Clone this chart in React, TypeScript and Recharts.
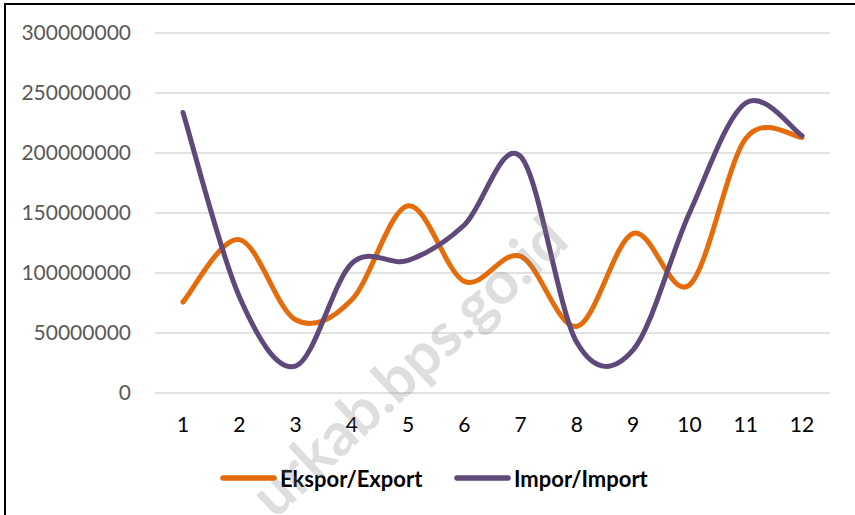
import React from 'react';
import { LineChart, Line, XAxis, YAxis, CartesianGrid, Legend } from 'recharts';

const months = ['1', '2', '3', '4', '5', '6', '7', '8', '9', '10', '11', '12'];
const exportValues = [75.8e6, 127.8e6, 61e6, 77.8e6, 156e6, 93e6, 113.9e6, 55.5e6, 133e6, 90e6, 212e6, 213e6];
const importValues = [233.8e6, 80.5e6, 22.4e6, 108e6, 110.5e6, 140e6, 197e6, 42e6, 36e6, 150e6, 241.7e6, 214.4e6];
const yTicks = [0, 50000000, 100000000, 150000000, 200000000, 250000000, 300000000];
const seriesNames = ['Ekspor/Export', 'Impor/Import'];
const watermarkText = 'urkab.bps.go.id';

const data = months.map((m, i) => ({ month: m, ekspor: exportValues[i], impor: importValues[i] }));

// Excel-like smoothed line (Catmull-Rom as cubic Bezier)
function excelCurve(context: any) {
  let pts: number[][] = [];
  return {
    areaStart() {},
    areaEnd() {},
    lineStart() {
      pts = [];
    },
    point(x: number, y: number) {
      pts.push([+x, +y]);
    },
    lineEnd() {
      const n = pts.length;
      if (!n) return;
      context.moveTo(pts[0][0], pts[0][1]);
      if (n === 1) return;
      for (let i = 0; i < n - 1; i++) {
        const p0 = pts[i - 1] || pts[i];
        const p1 = pts[i];
        const p2 = pts[i + 1];
        const p3 = pts[i + 2] || pts[i + 1];
        const c1x = p1[0] + (p2[0] - p0[0]) / 6;
        const c1y = p1[1] + (p2[1] - p0[1]) / 6;
        const c2x = p2[0] - (p3[0] - p1[0]) / 6;
        const c2y = p2[1] - (p3[1] - p1[1]) / 6;
        context.bezierCurveTo(c1x, c1y, c2x, c2y, p2[0], p2[1]);
      }
    },
  };
}

const legendLefts = [220, 454];

const renderLegend = (props: any) => {
  const { payload } = props;
  return (
    <div style={{ position: 'relative', width: 855, height: 30 }}>
      {(payload || []).map((entry: any, i: number) => (
        <div
          key={entry.value}
          style={{ position: 'absolute', left: legendLefts[i], top: 0, height: 30, display: 'flex', alignItems: 'center' }}
        >
          <svg width={57} height={10}>
            <line x1={3} y1={5} x2={54} y2={5} stroke={entry.color} strokeWidth={5.5} strokeLinecap="round" />
          </svg>
          <span style={{ marginLeft: 3, fontWeight: 700, fontSize: 22, color: '#000', fontFamily: 'Lato, sans-serif' }}>
            {entry.value}
          </span>
        </div>
      ))}
    </div>
  );
};

export default function App() {
  return (
    <div style={{ position: 'absolute', left: 0, top: 0, width: 855, height: 515, overflow: 'hidden', background: '#fff', fontFamily: 'Lato, sans-serif' }}>
      <div style={{ position: 'absolute', left: 4, top: 3, width: 900, height: 600, borderLeft: '2px solid #000', borderTop: '2px solid #000' }} />
      <div style={{ position: 'absolute', left: 0, top: 0 }}>
        <LineChart width={855} height={515} data={data} margin={{ top: 33, right: 25, left: 5, bottom: 52 }}>
          <CartesianGrid vertical={false} stroke="#d9d9d9" strokeWidth={1.3} />
          <XAxis
            dataKey="month"
            axisLine={false}
            tickLine={false}
            tickSize={0}
            tickMargin={24}
            height={40}
            interval={0}
            padding={{ left: 28, right: 28 }}
            tick={{ fill: '#000', fontSize: 21, fontFamily: 'Lato, sans-serif' }}
          />
          <YAxis
            domain={[0, 300000000]}
            ticks={yTicks}
            axisLine={false}
            tickLine={false}
            tickSize={0}
            tickMargin={24}
            width={150}
            tick={{ fill: '#595959', fontSize: 21, fontFamily: 'Lato, sans-serif' }}
          />
          <Legend verticalAlign="bottom" content={renderLegend} wrapperStyle={{ left: 0, width: 855, bottom: 22 }} />
          <Line
            type={excelCurve as any}
            dataKey="ekspor"
            name={seriesNames[0]}
            stroke="#E46C0A"
            strokeWidth={5}
            strokeLinecap="round"
            dot={false}
            activeDot={false}
            isAnimationActive={false}
          />
          <Line
            type={excelCurve as any}
            dataKey="impor"
            name={seriesNames[1]}
            stroke="#5F497A"
            strokeWidth={5}
            strokeLinecap="round"
            dot={false}
            activeDot={false}
            isAnimationActive={false}
          />
        </LineChart>
      </div>
      <svg width={855} height={515} style={{ position: 'absolute', left: 0, top: 0, pointerEvents: 'none' }}>
        <text
          x={423}
          y={382}
          textAnchor="middle"
          fontFamily="Lato, sans-serif"
          fontWeight={700}
          fontSize={60}
          fill="#7f7f7f"
          opacity={0.25}
          transform="rotate(-43 423 382)"
        >
          {watermarkText}
        </text>
      </svg>
    </div>
  );
}
